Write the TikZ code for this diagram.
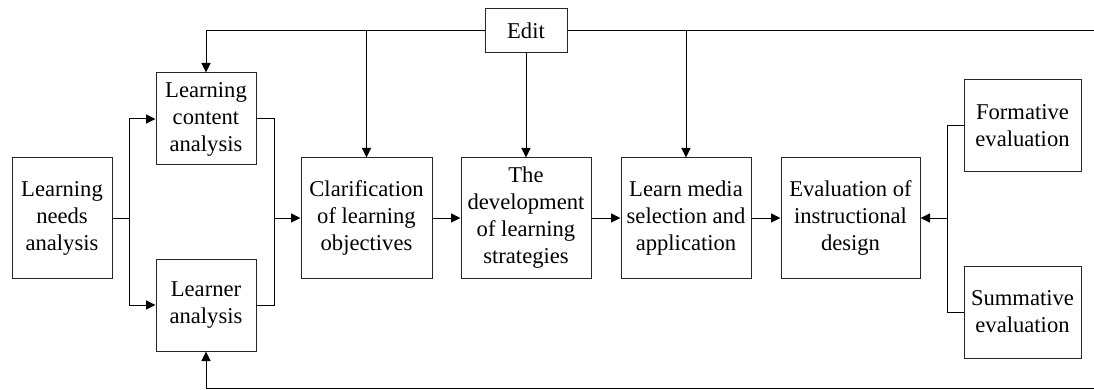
\documentclass[tikz,border=0pt]{standalone}
\usepackage{fontspec}
\setmainfont{Liberation Serif}
\usetikzlibrary{arrows.meta}
\begin{document}
\begin{tikzpicture}[x=1pt,y=-1pt,
  box/.style={draw=black!85, line width=1pt, inner sep=0pt, align=center,
    font=\fontsize{22.6}{27}\selectfont},
  link/.style={draw=black, line width=1pt},
  arr/.style={link, -{Triangle[length=9.5pt,width=9pt]}}]
\useasboundingbox (0,0) rectangle (1094,390);

% process boxes
\node[box, minimum width=100pt, minimum height=120pt] (needs)   at (62,218)    {Learning\\needs\\analysis};
\node[box, minimum width=100pt, minimum height=92pt]  (content) at (206,119)   {Learning\\content\\analysis};
\node[box, minimum width=100pt, minimum height=92pt]  (learner) at (206,305)   {Learner\\analysis};
\node[box, minimum width=131pt, minimum height=120pt] (clar)    at (366.5,218) {Clarification\\of learning\\objectives};
\node[box, minimum width=130pt, minimum height=120pt] (dev)     at (526,218)   {The\\development\\of learning\\strategies};
\node[box, minimum width=130pt, minimum height=120pt] (media)   at (686,218)   {Learn media\\selection and\\application};
\node[box, minimum width=139pt, minimum height=120pt] (eval)    at (850.5,218) {Evaluation of\\instructional\\design};
\node[box, minimum width=117pt, minimum height=92pt]  (form)    at (1022.5,126) {Formative\\evaluation};
\node[box, minimum width=117pt, minimum height=92pt]  (summ)    at (1022.5,312) {Summative\\evaluation};
\node[box, minimum width=82pt,  minimum height=44pt]  (edit)    at (526,31)    {Edit};

% junction points
\coordinate (split) at (129,218);
\coordinate (merge) at (274,218);
\coordinate (evjoin) at (947,218);
\coordinate (topR) at (1094,31);
\coordinate (botR) at (1094,388);

% analysis branch
\draw[link] (needs.east) -- (split);
\draw[arr] (split) |- (content.west);
\draw[arr] (split) |- (learner.west);
\draw[link] (content.east) -| (merge);
\draw[link] (learner.east) -| (merge);
\draw[arr] (merge) -- (clar.west);

% main chain
\draw[arr] (clar.east) -- (dev.west);
\draw[arr] (dev.east) -- (media.west);
\draw[arr] (media.east) -- (eval.west);

% evaluation inputs
\draw[link] (form.west) -| (evjoin);
\draw[link] (summ.west) -| (evjoin);
\draw[arr] (evjoin) -- (eval.east);

% edit feedback
\draw[arr] (edit.west) -| (content.north);
\draw[link] (edit.east) -- (topR);
\draw[arr] (edit.south) -- (dev.north);
\draw[arr] (clar.north |- edit.west) -- (clar.north);
\draw[arr] (media.north |- edit.east) -- (media.north);
\draw[arr] (botR) -| (learner.south);
\end{tikzpicture}
\end{document}
